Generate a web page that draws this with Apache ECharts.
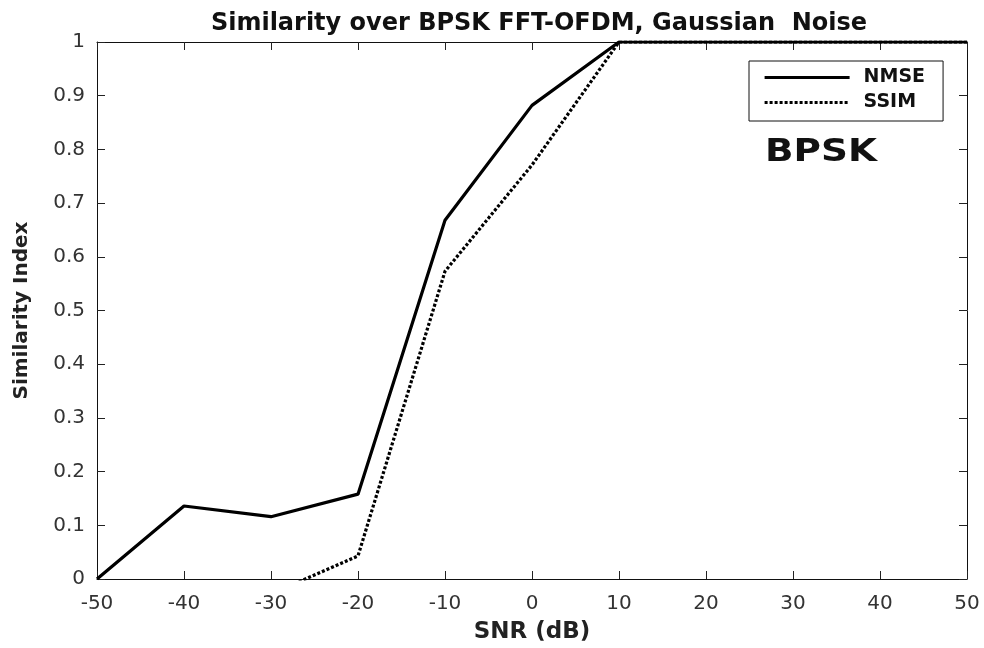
<!DOCTYPE html>
<html><head><meta charset="utf-8">
<script src="https://cdn.jsdelivr.net/npm/echarts@6/dist/echarts.min.js"></script>
<style>html,body{margin:0;padding:0;background:#fff}#c{width:984px;height:648px}</style>
</head><body><div id="c"></div>
<script>
const snr = [-50, -40, -30, -20, -10, 0, 10, 20, 30, 40, 50];
const nmse = [0, 0.136, 0.116, 0.158, 0.668, 0.882, 1, 1, 1, 1, 1];
const ssim = [-0.05, -0.04, -0.028, 0.043, 0.573, 0.771, 1, 1, 1, 1, 1];
const xTicks = [-50, 50, 10];
const yTicks = [0, 1, 0.1];
const F = '"DejaVu Sans", "Liberation Sans", Arial, sans-serif';
const chart = echarts.init(document.getElementById('c'));
const pair = (xs, ys) => xs.map((x, i) => [x, ys[i]]);
const axisBase = (len) => ({
  axisLine: {show: true, onZero: false, lineStyle: {color: '#111', width: 1}},
  axisTick: {show: true, inside: true, length: len, lineStyle: {color: '#222', width: 1}},
  splitLine: {show: false}
});
chart.setOption({
  backgroundColor: '#fff',
  animation: false,
  title: {text: 'Similarity over BPSK FFT-OFDM, Gaussian  Noise', left: 534, top: 7, textAlign: 'center',
    textStyle: {fontFamily: F, fontSize: 24, fontWeight: 'bold', color: '#111'}},
  grid: {left: 97, right: 17, top: 42, bottom: 69, containLabel: false, outerBoundsMode: 'none'},
  legend: {
    orient: 'vertical', left: 749, top: 61,
    itemWidth: 85, itemHeight: 12, itemGap: 6,
    padding: [7, 18, 9, 14],
    borderColor: '#111', borderWidth: 1, backgroundColor: '#fff',
    itemStyle: {color: 'rgba(0,0,0,0)', borderColor: 'rgba(0,0,0,0)', borderWidth: 0, opacity: 0},
    lineStyle: {width: 3.2},
    textStyle: {fontFamily: F, fontSize: 19, fontWeight: 'bold', color: '#111', padding: [0, 0, 0, 9]},
    data: ['NMSE', 'SSIM']
  },
  graphic: [{type: 'text', left: 765, top: 137, scaleX: 1.17,
    style: {text: 'BPSK', font: 'bold 32px ' + F, fill: '#111'}}],
  xAxis: [
    Object.assign({type: 'value', min: xTicks[0], max: xTicks[1], interval: xTicks[2],
      name: 'SNR (dB)', nameLocation: 'middle', nameGap: 42,
      nameTextStyle: {fontFamily: F, fontSize: 23, fontWeight: 'bold', color: '#222'},
      axisLabel: {fontFamily: F, fontSize: 20, color: '#333', margin: 15}}, axisBase(8)),
    Object.assign({type: 'value', position: 'top', min: xTicks[0], max: xTicks[1], interval: xTicks[2],
      axisLabel: {show: false}}, axisBase(8))
  ],
  yAxis: [
    Object.assign({type: 'value', min: yTicks[0], max: yTicks[1], interval: yTicks[2],
      name: 'Similarity Index', nameLocation: 'middle', nameGap: 65,
      nameTextStyle: {fontFamily: F, fontSize: 20, fontWeight: 'bold', color: '#222'},
      axisLabel: {fontFamily: F, fontSize: 20, color: '#333', margin: 12,
        formatter: v => (Math.round(v * 10) / 10).toString()}}, axisBase(8)),
    Object.assign({type: 'value', position: 'right', min: yTicks[0], max: yTicks[1], interval: yTicks[2],
      axisLabel: {show: false}}, axisBase(8))
  ],
  series: [
    {name: 'NMSE', type: 'line', data: pair(snr, nmse), symbol: 'none', clip: true,
      lineStyle: {color: '#000', width: 3.2}, itemStyle: {color: '#000'}},
    {name: 'SSIM', type: 'line', data: pair(snr, ssim), symbol: 'none', clip: true,
      lineStyle: {color: '#000', width: 3.2, type: [3, 2]}, itemStyle: {color: '#000'}}
  ]
});
</script></body></html>
